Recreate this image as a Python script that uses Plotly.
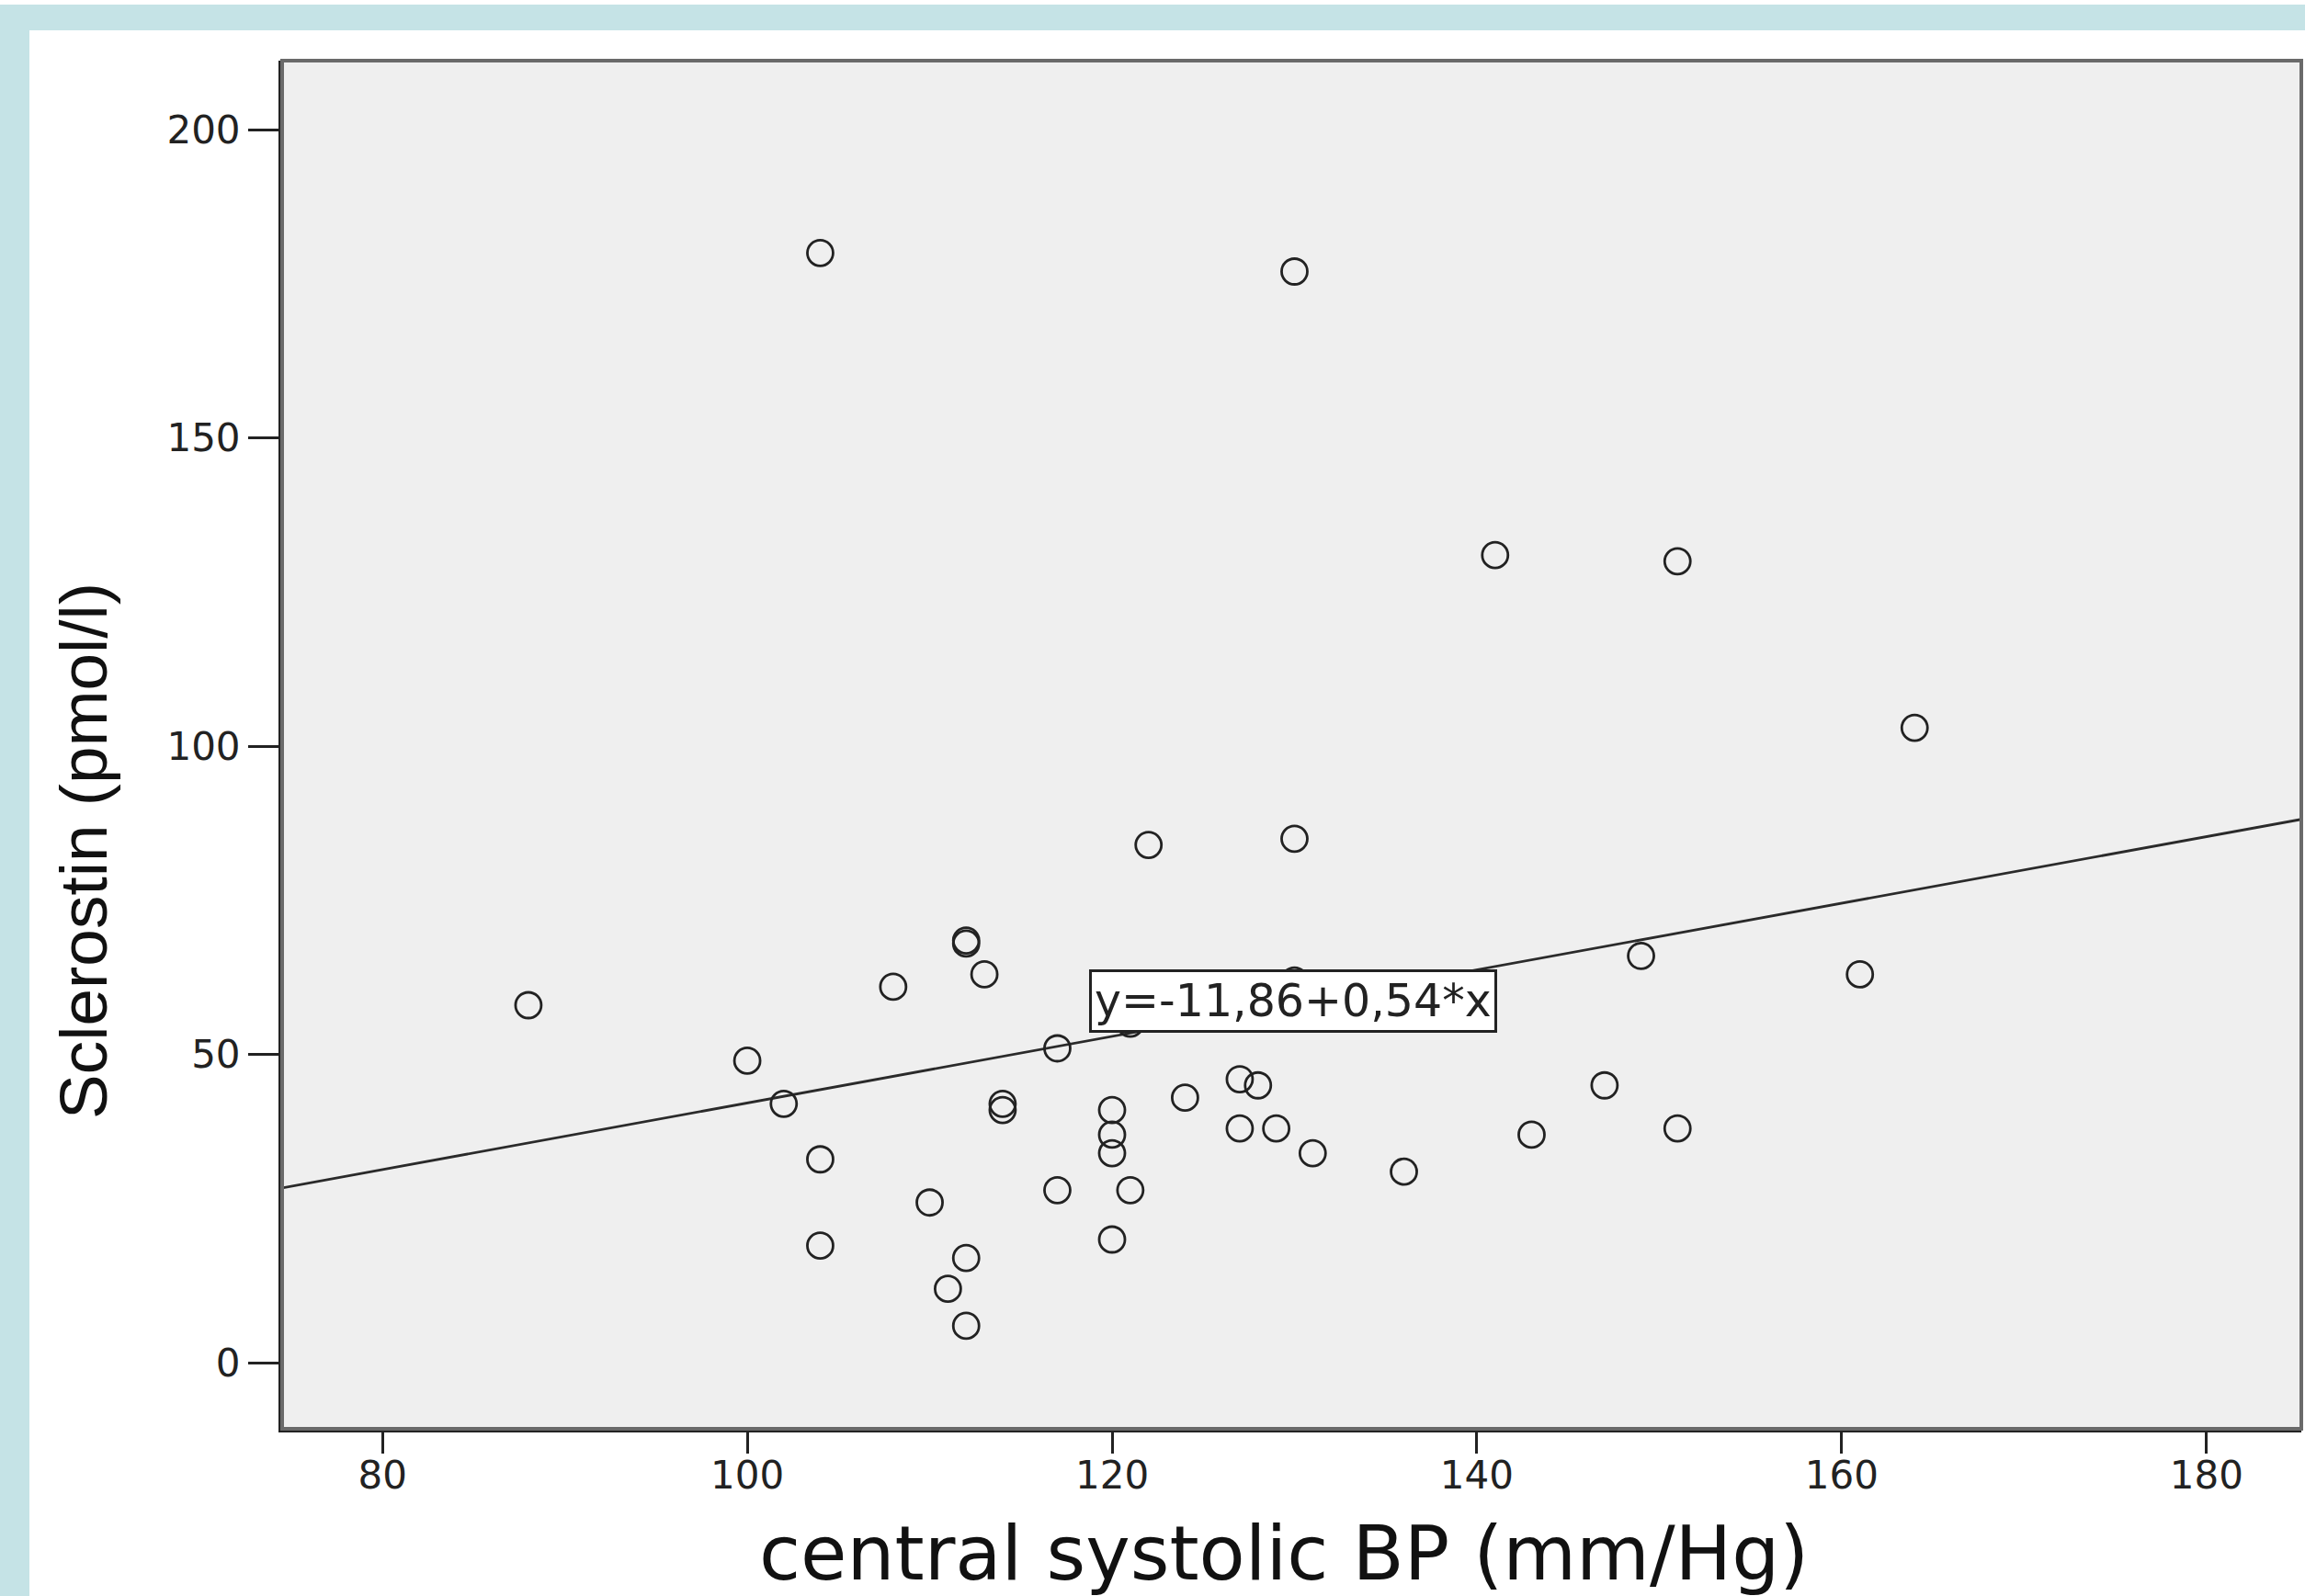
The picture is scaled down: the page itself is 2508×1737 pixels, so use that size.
import plotly.graph_objects as go

# ---- data ----
bp = [104, 130, 141, 151, 164, 122, 130, 88, 108, 112, 112, 113, 100, 102, 117,
      121, 130, 114, 114, 120, 120, 120, 124, 127, 128, 127, 129, 131, 136, 143,
      147, 149, 151, 161, 104, 104, 110, 117, 121, 120, 112, 111, 112]
sclerostin = [180, 177, 131, 130, 103, 84, 85, 58, 61, 68, 68.5, 63, 49, 42, 51,
              55, 62, 42, 41, 41, 37, 34, 43, 46, 45, 38, 38, 34, 31, 37,
              45, 66, 38, 63, 33, 19, 26, 28, 28, 20, 17, 12, 6]
intercept = -11.86
slope = 0.54
fit_label = "y=-11,86+0,54*x"
x_ticks = [80, 100, 120, 140, 160, 180]
y_ticks = [0, 50, 100, 150, 200]
x_range = [74.5, 185.2]
y_range = [-10.7, 211.2]

W, H = 2508, 1737
L, R, T, B = 307, 4, 66, 182
PW, PH = W - L - R, H - T - B

def px(xp):
    return (xp - L) / PW

def py(yp):
    return (H - B - yp) / PH

WIDE = "DejaVu Sans, Verdana, sans-serif"
ARIAL = "Liberation Sans, Arial, sans-serif"

fig = go.Figure()

fit_x = [x_range[0], x_range[1]]
fit_y = [intercept + slope * v for v in fit_x]
fig.add_trace(go.Scatter(x=fit_x, y=fit_y, mode="lines",
                         line=dict(color="#2a2a2a", width=2.8),
                         hoverinfo="skip", showlegend=False))

fig.add_trace(go.Scatter(x=bp, y=sclerostin, mode="markers",
                         marker=dict(symbol="circle-open", size=28,
                                     line=dict(color="#222222", width=2.8),
                                     color="#222222"),
                         showlegend=False))

tick_font = dict(family=WIDE, size=42, color="#222222")

fig.update_xaxes(range=x_range, tickvals=x_ticks, ticks="outside", ticklen=23,
                 tickwidth=3, tickcolor="#222222", showgrid=False, zeroline=False,
                 showline=True, linecolor="#222222", linewidth=4,
                 tickfont=tick_font, ticklabelstandoff=-12)
fig.update_yaxes(range=y_range, tickvals=y_ticks, ticks="outside", ticklen=33,
                 tickwidth=3, tickcolor="#222222", showgrid=False, zeroline=False,
                 showline=True, linecolor="#222222", linewidth=4,
                 tickfont=tick_font)

shapes = [
    dict(type="rect", xref="paper", yref="paper", x0=0, x1=1, y0=0, y1=1,
         line=dict(color="#6a6a6a", width=4), fillcolor="rgba(0,0,0,0)", layer="above"),
    dict(type="rect", xref="paper", yref="paper", x0=px(0), x1=px(W), y0=py(33), y1=py(5),
         line=dict(width=0), fillcolor="#c5e3e6", layer="below"),
    dict(type="rect", xref="paper", yref="paper", x0=px(0), x1=px(32), y0=py(H), y1=py(5),
         line=dict(width=0), fillcolor="#c5e3e6", layer="below"),
]

annotations = [
    dict(x=129.95, y=58.6, xref="x", yref="y", text=fit_label, showarrow=False,
         font=dict(family=WIDE, size=49, color="#222222"),
         bgcolor="white", bordercolor="#222222", borderwidth=3, borderpad=3),
    dict(x=px(1397), y=py(1690), xref="paper", yref="paper",
         text="central systolic BP (mm/Hg)", showarrow=False,
         xanchor="center", yanchor="middle",
         font=dict(family=WIDE, size=82, color="#111111")),
    dict(x=px(90), y=py(926), xref="paper", yref="paper",
         text="Sclerostin (pmol/l)", showarrow=False, textangle=-90,
         xanchor="center", yanchor="middle",
         font=dict(family=ARIAL, size=73, color="#111111")),
]

fig.update_layout(width=W, height=H,
                  margin=dict(l=L, r=R, t=T, b=B, pad=0),
                  paper_bgcolor="white", plot_bgcolor="#efefef",
                  shapes=shapes, annotations=annotations, showlegend=False)

fig.write_html("out.html", config={"displayModeBar": False},
               post_script="document.body.style.margin='0';document.body.style.overflow='hidden';")
